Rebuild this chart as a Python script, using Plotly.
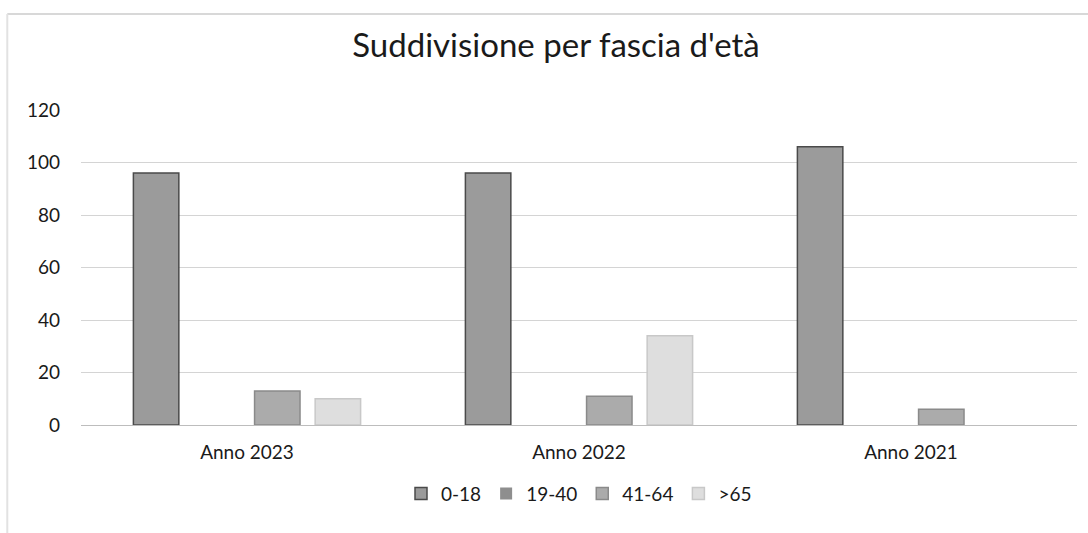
import plotly.graph_objects as go

# Age-band counts per year
categories = ["Anno 2023", "Anno 2022", "Anno 2021"]
series_names = ["0-18", "19-40", "41-64", ">65"]
age_0_18 = [96, 96, 106]
age_19_40 = [0, 0, 0]
age_41_64 = [13, 11, 6]
age_over_65 = [10, 34, 0]
y_ticks = [0, 20, 40, 60, 80, 100, 120]

series_values = [age_0_18, age_19_40, age_41_64, age_over_65]
fills = ["#9b9b9b", "#8e8e8e", "#ababab", "#dedede"]
edges = ["#4a4a4a", "#6a6a6a", "#8a8a8a", "#c8c8c8"]

FONT = "Lato"
TEXT = "#1a1a1a"

fig = go.Figure()
for name, vals, fill, edge in zip(series_names, series_values, fills, edges):
    # no outline on empty bars so zero values stay invisible
    widths = [1.5 if v > 0 else 0 for v in vals]
    fig.add_trace(go.Bar(
        name=name, x=categories, y=vals,
        marker=dict(color=fill, line=dict(color=edge, width=widths)),
    ))

fig.update_layout(
    width=1088, height=533,
    margin=dict(l=81, r=11, t=110, b=108),
    paper_bgcolor="white", plot_bgcolor="white",
    barmode="group", bargap=0.27, bargroupgap=0.25,
    font=dict(family=FONT, color=TEXT),
    title=dict(text="Suddivisione per fascia d'età", x=0.511, xanchor="center",
               y=0.915, yanchor="middle",
               font=dict(family=FONT, size=33, color=TEXT)),
    xaxis=dict(showgrid=False, showline=False, ticks="",
               ticklabelstandoff=14,
               tickfont=dict(family=FONT, size=19, color=TEXT)),
    yaxis=dict(range=[0, 120], tickvals=y_ticks, showgrid=True,
               gridcolor="#d4d4d4", gridwidth=1, zeroline=True,
               zerolinecolor="#bdbdbd", zerolinewidth=1, ticks="",
               ticklabelstandoff=20,
               tickfont=dict(family=FONT, size=19, color=TEXT)),
    legend=dict(orientation="h", x=0.5, xanchor="center", y=-0.218,
                yanchor="middle", font=dict(family=FONT, size=19, color=TEXT),
                itemwidth=30, traceorder="normal"),
    shapes=[
        dict(type="line", xref="paper", yref="paper", x0=-0.074, x1=1.02,
             y0=1.305, y1=1.305, line=dict(color="#d8d8d8", width=2)),
        dict(type="line", xref="paper", yref="paper", x0=-0.074, x1=-0.074,
             y0=1.305, y1=-0.35, line=dict(color="#e2e2e2", width=2)),
    ],
)

fig.write_html("out.html")
